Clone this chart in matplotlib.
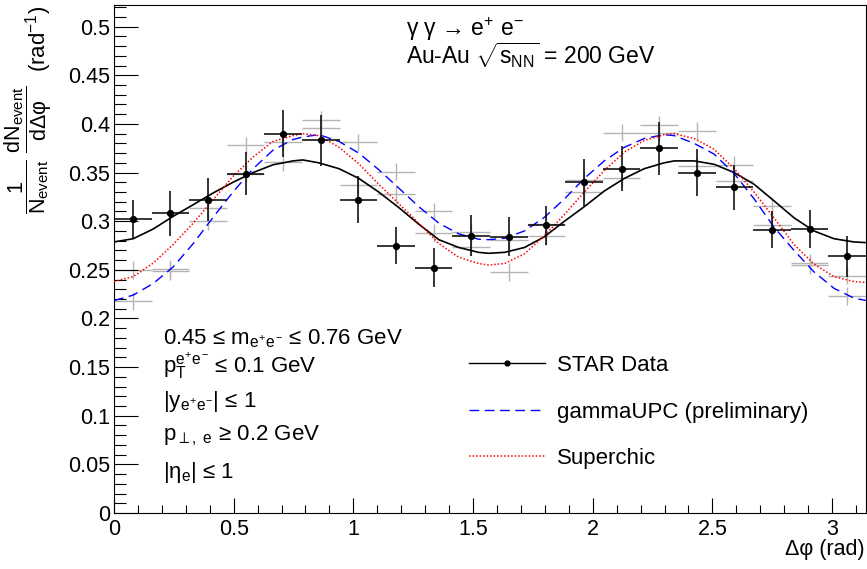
import numpy as np
import matplotlib
matplotlib.use("Agg")
import matplotlib.pyplot as plt
from matplotlib.lines import Line2D
from matplotlib.ticker import MultipleLocator, FuncFormatter

plt.rcParams['font.family'] = ['Liberation Sans', 'DejaVu Sans']
plt.rcParams['mathtext.fontset'] = 'custom'
plt.rcParams['mathtext.rm'] = 'Liberation Sans'
plt.rcParams['mathtext.it'] = 'Liberation Sans'
plt.rcParams['mathtext.sf'] = 'Liberation Sans'
plt.rcParams['mathtext.bf'] = 'Liberation Sans:bold'

# STAR data, 20 bins in delta phi from 0 to pi
nbins = 20
star_y = [0.302, 0.308, 0.322, 0.349, 0.390, 0.383, 0.322, 0.275, 0.252, 0.285,
          0.284, 0.296, 0.340, 0.354, 0.375, 0.350, 0.335, 0.291, 0.292, 0.264]
star_err = [0.020, 0.023, 0.022, 0.022, 0.024, 0.026, 0.024, 0.019, 0.020, 0.021,
            0.020, 0.020, 0.024, 0.023, 0.027, 0.024, 0.023, 0.019, 0.020, 0.021]

# grey model points (two sets per bin)
grey_a = [0.250, 0.251, 0.3135, 0.378, 0.381, 0.404, 0.381, 0.351, 0.310, 0.2885,
          0.281, 0.297, 0.342, 0.391, 0.399, 0.393, 0.358, 0.316, 0.257, 0.244]
grey_b = [0.218, 0.249, 0.300, 0.349, 0.361, 0.396, 0.337, 0.328, 0.288, 0.274,
          0.248, 0.285, 0.330, 0.344, 0.391, 0.357, 0.341, 0.296, 0.255, 0.223]
grey_err = 0.009

# curves
curve_x = [0.0, 0.08, 0.164, 0.247, 0.331, 0.414, 0.497, 0.581, 0.664, 0.748, 0.789,
           0.856, 0.94, 1.023, 1.106, 1.19, 1.273, 1.357, 1.44, 1.523, 1.565,
           1.632, 1.715, 1.798, 1.882, 1.965, 2.048, 2.132, 2.215, 2.298, 2.34,
           2.424, 2.507, 2.591, 2.674, 2.757, 2.841, 2.924, 3.008, 3.091, 3.1416]
star_fit = [0.2787, 0.282, 0.292, 0.305, 0.317, 0.329, 0.340, 0.350, 0.358, 0.362, 0.363,
            0.360, 0.354, 0.344, 0.330, 0.314, 0.297, 0.281, 0.273, 0.268, 0.267,
            0.268, 0.273, 0.284, 0.300, 0.315, 0.331, 0.344, 0.354, 0.360, 0.362,
            0.362, 0.3585, 0.350, 0.338, 0.321, 0.3035, 0.290, 0.282, 0.2787, 0.278]
gamma_upc = [0.2184, 0.224, 0.236, 0.253, 0.277, 0.304, 0.330, 0.354, 0.373, 0.384, 0.3866,
             0.389, 0.382, 0.370, 0.353, 0.334, 0.315, 0.298, 0.287, 0.2815, 0.281,
             0.2825, 0.290, 0.304, 0.323, 0.344, 0.362, 0.376, 0.385, 0.389, 0.388,
             0.380, 0.369, 0.349, 0.323, 0.294, 0.270, 0.248, 0.231, 0.221, 0.2185]
superchic = [0.238, 0.243, 0.257, 0.276, 0.298, 0.322, 0.346, 0.366, 0.382, 0.388, 0.390,
             0.388, 0.376, 0.359, 0.338, 0.318, 0.298, 0.277, 0.263, 0.2565, 0.255,
             0.2565, 0.2665, 0.285, 0.307, 0.330, 0.352, 0.371, 0.383, 0.389, 0.390,
             0.385, 0.374, 0.354, 0.330, 0.3035, 0.276, 0.256, 0.243, 0.238, 0.237]

edges = np.linspace(0, np.pi, nbins + 1)
centers = 0.5 * (edges[:-1] + edges[1:])
half = 0.5 * (edges[1] - edges[0])

fig = plt.figure(figsize=(8.67, 5.69), dpi=100)
ax = fig.add_axes([114/867, 56/569, 752/867, 508/569])

gkw = dict(fmt='none', ecolor='#b4b4b4', elinewidth=1.0, capsize=0, zorder=1)
ax.errorbar(centers, grey_a, xerr=half, yerr=grey_err, **gkw)
ax.errorbar(centers, grey_b, xerr=half, yerr=grey_err, **gkw)

ax.plot(curve_x, star_fit, color='black', lw=1.2, zorder=3)
ax.plot(curve_x, gamma_upc, color='#0000ff', lw=1.0, dashes=(7, 4), zorder=3)
ax.plot(curve_x, superchic, color='#ff0000', lw=1.1, linestyle=(0, (1, 1.3)), zorder=3)

ax.errorbar(centers, star_y, xerr=half, yerr=star_err, fmt='o', color='black',
            ms=4.2, elinewidth=1.1, capsize=0, zorder=4)

ax.set_xlim(0, np.pi)
ax.set_ylim(0, 0.5223)
ax.xaxis.set_major_locator(MultipleLocator(0.5))
ax.xaxis.set_minor_locator(MultipleLocator(0.1))
ax.yaxis.set_major_locator(MultipleLocator(0.05))
ax.yaxis.set_minor_locator(MultipleLocator(0.01))
fmt = FuncFormatter(lambda v, p: '%g' % round(v, 3))
ax.xaxis.set_major_formatter(fmt)
ax.yaxis.set_major_formatter(fmt)
ax.tick_params(axis='both', which='both', direction='in', width=0.8, labelsize=15.5)
ax.tick_params(axis='x', which='major', length=11, pad=4)
ax.tick_params(axis='x', which='minor', length=5.5)
ax.tick_params(axis='y', which='major', length=17, pad=3)
ax.tick_params(axis='y', which='minor', length=8.5)
for s in ax.spines.values():
    s.set_linewidth(0.8)

fig.text(865/867, 1 - 550/569, 'Δφ (rad)', ha='right', va='center', fontsize=15.5)
fig.text(28/867, 1 - 150/569,
         r'$\dfrac{1}{N_{event}}\ \dfrac{dN_{event}}{d\Delta\varphi}$',
         rotation=90, ha='center', va='center', fontsize=15.5)
fig.text(39/867, 1 - 39/569, r'(rad$^{-1}$)', rotation=90, ha='center',
         va='center', fontsize=16)

fig.text(406/867, 1 - 36/569, r'γ γ → e$^{+}$ e$^{-}$', fontsize=16.5, va='baseline')
fig.text(406/867, 1 - 64/569, r'Au-Au $\sqrt{s_{NN}}$ = 200 GeV', fontsize=16.5,
         va='baseline')

cuts = [r'0.45 ≤ m$_{e^{+}e^{-}}$ ≤ 0.76 GeV',
        r'p$_{T}^{e^{+}e^{-}}$ ≤ 0.1 GeV',
        r'|y$_{e^{+}e^{-}}$| ≤ 1',
        r'p$_{\perp,\ e}$ ≥ 0.2 GeV',
        r'|η$_{e}$| ≤ 1']
cut_base = [344, 373, 407, 440, 478]
for t, b in zip(cuts, cut_base):
    fig.text(163/867, 1 - b/569, t, fontsize=16, va='baseline')

handles = [Line2D([], [], color='black', lw=1.0, marker='o', ms=3.5),
           Line2D([], [], color='#0000ff', lw=1.0, dashes=(7, 4)),
           Line2D([], [], color='#ff0000', lw=1.1, linestyle=(0, (1, 1.3)))]
labels = ['STAR Data', 'gammaUPC (preliminary)', 'Superchic']
ax.legend(handles, labels, loc='upper left', bbox_to_anchor=(355/752, 1 - 350/508),
          frameon=False, fontsize=16, handlelength=3.4, handletextpad=0.55,
          labelspacing=1.15, borderaxespad=0, borderpad=0)

fig.savefig('out.png', dpi=100)
